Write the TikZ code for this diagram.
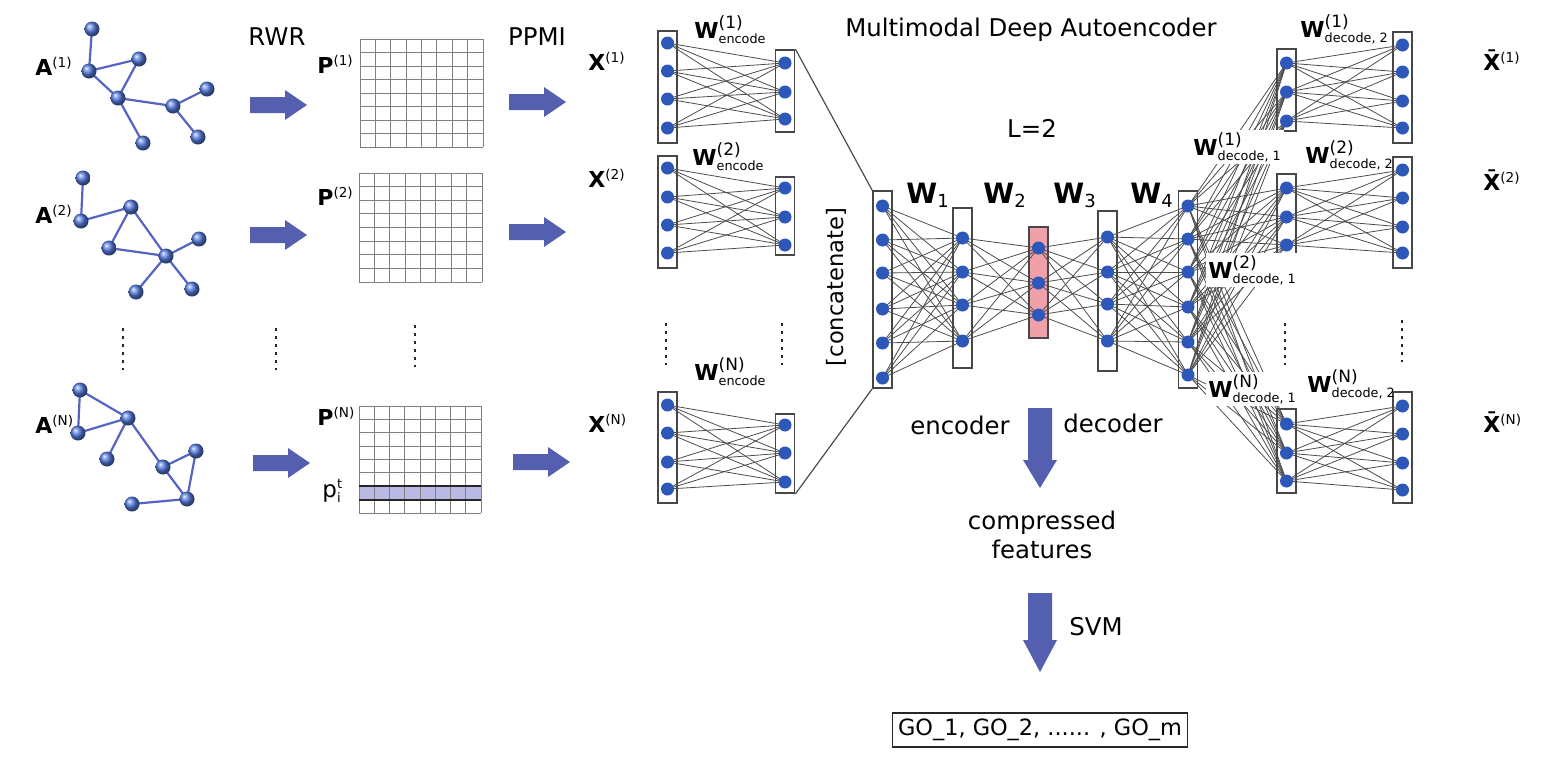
\documentclass[tikz,border=0pt]{standalone}
\usepackage{fontspec}
\setmainfont{DejaVu Sans}
\pgfdeclarelayer{back}
\pgfdeclarelayer{wires}
\pgfsetlayers{back,wires,main}
\definecolor{nodeblue}{RGB}{45,88,185}
\definecolor{gblue}{RGB}{85,125,225}
\definecolor{arrowblue}{RGB}{85,95,175}
\definecolor{edgeblue}{RGB}{85,100,195}
\definecolor{pinkfill}{RGB}{240,160,168}
\definecolor{rowfill}{RGB}{185,185,228}
\tikzset{
  neuron/.style={circle, fill=nodeblue, minimum size=6.5pt, inner sep=0pt},
  layerbox/.style={draw=black!72, line width=0.9pt, fill=white, minimum width=9.5pt, inner sep=0pt},
  conn/.style={draw=black!70, line width=0.4pt},
  gnode/.style={circle, shading=ball, ball color=gblue, minimum size=7.5pt, inner sep=0pt},
  gedge/.style={draw=edgeblue, line width=1.1pt},
  gridline/.style={draw=black!50, line width=0.5pt},
  dots/.style={draw=black!85, line width=1.4pt, dash pattern=on 1.4pt off 2.6pt},
  maintext/.style={font=\fontsize{12.2}{14.5}\selectfont, inner sep=0pt},
  labtext/.style={font=\fontsize{11}{13}\selectfont, inner sep=0pt, anchor=base west},
  rarrow/.pic={\fill[arrowblue] (-28,-8) -- (7,-8) -- (7,-15) -- (29,0) -- (7,15) -- (7,8) -- (-28,8) -- cycle;}
}
\newcommand{\lab}[2]{{\bfseries #1}$^{\mbox{\fontsize{6.8}{7}\selectfont(#2)}}$}
\newcommand{\wlab}[2]{{\bfseries W}$^{\mbox{\fontsize{8.5}{9}\selectfont(#1)}}_{\mbox{\fontsize{6.4}{7}\selectfont #2}}$}
\newcommand{\mklayer}[6]{%
  \begin{pgfonlayer}{back}
  \node[layerbox, fill=#6, minimum height={(#4-#3)*0.5pt}] (#1) at (#2,{(#3+#4)/2}) {};
  \end{pgfonlayer}
  \foreach \yy [count=\ii] in {#5} {\node[neuron] (#1-\ii) at (#2,\yy) {};}
}
\newcommand{\mkconn}[4]{%
  \begin{pgfonlayer}{wires}
  \foreach \ii in {1,...,#2} {\foreach \jj in {1,...,#4} {\draw[conn] (#1-\ii.center) -- (#3-\jj.center);}}
  \end{pgfonlayer}
}
\newcommand{\pgrid}[4]{%
  \foreach \k in {0,...,8} {
    \draw[gridline] ({#1+\k*(#3-#1)/8},#2) -- ({#1+\k*(#3-#1)/8},#4);
    \draw[gridline] (#1,{#2+\k*(#4-#2)/8}) -- (#3,{#2+\k*(#4-#2)/8});
  }
}
\begin{document}
\begin{tikzpicture}[x=0.5pt,y=-0.5pt]
\useasboundingbox (0,0) rectangle (1541,762);

% ---------- graphs ----------
\node[gnode] (g1a) at (92,29) {};
\node[gnode] (g1b) at (89,71) {};
\node[gnode] (g1c) at (139,59) {};
\node[gnode] (g1d) at (118,98) {};
\node[gnode] (g1e) at (173,106) {};
\node[gnode] (g1f) at (207,89) {};
\node[gnode] (g1g) at (198,137) {};
\node[gnode] (g1h) at (143,143) {};
\node[gnode] (g2a) at (83,178) {};
\node[gnode] (g2b) at (81,221) {};
\node[gnode] (g2c) at (131,207) {};
\node[gnode] (g2d) at (109,248) {};
\node[gnode] (g2e) at (166,256) {};
\node[gnode] (g2f) at (199,239) {};
\node[gnode] (g2g) at (136,292) {};
\node[gnode] (g2h) at (192,289) {};
\node[gnode] (gNa) at (80,390) {};
\node[gnode] (gNb) at (78,433) {};
\node[gnode] (gNc) at (128,418) {};
\node[gnode] (gNd) at (107,459) {};
\node[gnode] (gNe) at (163,467) {};
\node[gnode] (gNf) at (196,451) {};
\node[gnode] (gNg) at (187,499) {};
\node[gnode] (gNh) at (132,504) {};
\begin{pgfonlayer}{wires}
\draw[gedge] (g1a.center) -- (g1b.center) -- (g1c.center) -- (g1d.center) -- (g1b.center);
\draw[gedge] (g1d.center) -- (g1e.center) -- (g1f.center);
\draw[gedge] (g1e.center) -- (g1g.center);
\draw[gedge] (g1d.center) -- (g1h.center);
\draw[gedge] (g2a.center) -- (g2b.center) -- (g2c.center) -- (g2d.center) -- (g2e.center) -- (g2c.center);
\draw[gedge] (g2e.center) -- (g2f.center);
\draw[gedge] (g2e.center) -- (g2g.center);
\draw[gedge] (g2e.center) -- (g2h.center);
\draw[gedge] (gNa.center) -- (gNb.center) -- (gNc.center) -- (gNa.center);
\draw[gedge] (gNc.center) -- (gNd.center);
\draw[gedge] (gNc.center) -- (gNe.center) -- (gNf.center) -- (gNg.center) -- (gNe.center);
\draw[gedge] (gNg.center) -- (gNh.center);
\end{pgfonlayer}
\node[labtext] (lA1) at (35,75) {\lab{A}{1}};
\node[labtext] (lA2) at (35,223) {\lab{A}{2}};
\node[labtext] (lAN) at (35,433) {\lab{A}{N}};

% ---------- arrows ----------
\node[maintext] (trwr) at (277,37) {RWR};
\node[maintext] (tppmi) at (537,37) {PPMI};
\pic at (278,105) {rarrow};
\pic at (278,235) {rarrow};
\pic at (281,463) {rarrow};
\pic at (537,102) {rarrow};
\pic at (537,232) {rarrow};
\pic at (541,462) {rarrow};

% ---------- grids ----------
\pgrid{360}{39}{483}{147}
\pgrid{359}{173}{482}{282}
\fill[rowfill] (359,{406+6*107/8}) rectangle (481,{406+7*107/8});
\pgrid{359}{406}{481}{513}
\draw[black!85, line width=1pt] (359,{406+6*107/8}) -- (481,{406+6*107/8});
\draw[black!85, line width=1pt] (359,{406+7*107/8}) -- (481,{406+7*107/8});
\node[labtext] (lP1) at (317,73) {\lab{P}{1}};
\node[labtext] (lP2) at (317,205) {\lab{P}{2}};
\node[labtext] (lPN) at (317,425) {\lab{P}{N}};
\node[labtext, font=\fontsize{11.5}{13}\selectfont] (lpt) at (322,497) {p$^{\mbox{\fontsize{6.5}{7}\selectfont t}}_{\mbox{\fontsize{6.5}{7}\selectfont i}}$};

% ---------- dots ----------
\draw[dots] (123,328) -- (123,370);
\draw[dots] (276,328) -- (276,370);
\draw[dots] (415,325) -- (415,367);
\draw[dots] (666,323) -- (666,365);
\draw[dots] (782,323) -- (782,365);
\draw[dots] (1285,323) -- (1285,365);
\draw[dots] (1402,320) -- (1402,362);

% ---------- encoder nets ----------
\node[labtext] (lX1) at (588,70) {\lab{X}{1}};
\node[labtext] (lX2) at (588,187) {\lab{X}{2}};
\node[labtext] (lXN) at (588,432) {\lab{X}{N}};
\mklayer{e1L}{667.5}{31}{143}{43,71,99,128}{white}
\mklayer{e1R}{785}{50}{132}{63,92,119}{white}
\mklayer{e2L}{667.5}{156}{268}{168,197,225,253}{white}
\mklayer{e2R}{785}{177}{255}{188,217,245}{white}
\mklayer{eNL}{667.5}{392}{503}{405,433,462,489}{white}
\mklayer{eNR}{785}{414}{493}{425,453,482}{white}
\mkconn{e1L}{4}{e1R}{3}
\mkconn{e2L}{4}{e2R}{3}
\mkconn{eNL}{4}{eNR}{3}
\node[labtext] (lWe1) at (694,38) {\wlab{1}{encode}};
\node[labtext] (lWe2) at (692,165) {\wlab{2}{encode}};
\node[labtext] (lWeN) at (694,380) {\wlab{N}{encode}};

% ---------- central autoencoder ----------
\node[maintext] (ttitle) at (1031,30) {Multimodal Deep Autoencoder};
\node[maintext] (tL) at (1032,128) {L=2};
\mklayer{c1}{882.5}{191}{388}{206,240,273,309,343,378}{white}
\mklayer{c2}{962.5}{208}{368}{238,272,305,341}{white}
\mklayer{c3}{1038.5}{227}{338}{248,283,315}{pinkfill}
\mklayer{c4}{1107.5}{211}{371}{237,272,304,341}{white}
\mklayer{c5}{1188}{191}{388}{206,239,272,307,342,375}{white}
\mkconn{c1}{6}{c2}{4}
\mkconn{c2}{4}{c3}{3}
\mkconn{c3}{3}{c4}{4}
\mkconn{c4}{4}{c5}{6}
\draw[conn, line width=0.6pt] (e1R.north east) -- (c1.north west);
\draw[conn, line width=0.6pt] (eNR.south east) -- (c1.south west);
\node[maintext, rotate=90, font=\fontsize{11.3}{13}\selectfont] (tcat) at (836,287) {[concatenate]};
\foreach \t/\xx in {1/906, 2/983, 3/1053, 4/1130}
  {\node[labtext, font=\fontsize{14}{16}\selectfont] (lWc\t) at (\xx,203) {{\bfseries W}$_{\mbox{\fontsize{9}{10}\selectfont\t}}$};}

% ---------- decoder nets ----------
\mklayer{d1L}{1286.5}{49}{131}{63,92,121}{white}
\mklayer{d1R}{1402.5}{32}{143}{45,72,101,128}{white}
\mklayer{d2L}{1286.5}{174}{256}{188,217,245}{white}
\mklayer{d2R}{1402.5}{157}{268}{170,198,227,253}{white}
\mklayer{dNL}{1286.5}{409}{493}{424,453,481}{white}
\mklayer{dNR}{1402.5}{392}{503}{406,434,463,490}{white}
\mkconn{c5}{6}{d1L}{3}
\mkconn{c5}{6}{d2L}{3}
\mkconn{c5}{6}{dNL}{3}
\mkconn{d1L}{3}{d1R}{4}
\mkconn{d2L}{3}{d2R}{4}
\mkconn{dNL}{3}{dNR}{4}
\node[labtext] (lWd12) at (1300,37) {\wlab{1}{decode, 2}};
\node[labtext, fill=white, inner sep=1pt] (lWd11) at (1191,155) {\wlab{1}{decode, 1}};
\node[labtext] (lWd22) at (1305,163) {\wlab{2}{decode, 2}};
\node[labtext, fill=white, inner sep=1pt] (lWd21) at (1206,278) {\wlab{2}{decode, 1}};
\node[labtext, fill=white, inner sep=1pt] (lWdN1) at (1206,397) {\wlab{N}{decode, 1}};
\node[labtext] (lWdN2) at (1307,392) {\wlab{N}{decode, 2}};
\node[labtext] (lXb1) at (1483,70) {{\bfseries\=X}$^{\mbox{\fontsize{6.8}{7}\selectfont(1)}}$};
\node[labtext] (lXb2) at (1483,190) {{\bfseries\=X}$^{\mbox{\fontsize{6.8}{7}\selectfont(2)}}$};
\node[labtext] (lXbN) at (1483,432) {{\bfseries\=X}$^{\mbox{\fontsize{6.8}{7}\selectfont(N)}}$};

% ---------- bottom ----------
\node[maintext] (tenc) at (960,425) {encoder};
\node[maintext] (tdec) at (1113,423) {decoder};
\fill[arrowblue] (1028,408) -- (1052,408) -- (1052,460) -- (1057,460) -- (1040,488) -- (1023,460) -- (1028,460) -- cycle;
\node[maintext, align=center] (tcomp) at (1042,535) {compressed\\features};
\fill[arrowblue] (1028,593) -- (1052,593) -- (1052,640) -- (1057,640) -- (1040,672) -- (1023,640) -- (1028,640) -- cycle;
\node[maintext] (tsvm) at (1096,627) {SVM};
\node[draw=black!85, line width=0.8pt, minimum width=147.5pt, minimum height=17pt, inner sep=0pt, font=\fontsize{11.2}{13}\selectfont] (go) at (1040,730) {GO\_1, GO\_2, ...... , GO\_m};
\end{tikzpicture}
\end{document}
